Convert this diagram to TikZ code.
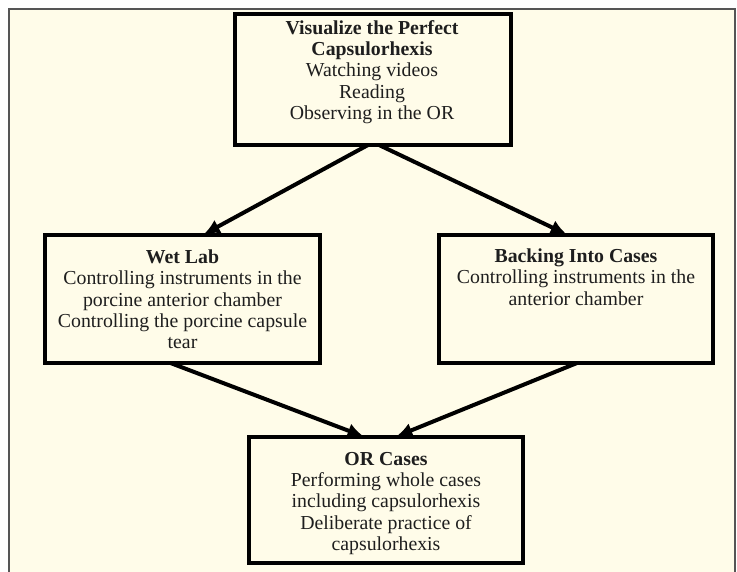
\documentclass[tikz,border=0pt]{standalone}
\usepackage{fontspec}
\setmainfont{Liberation Serif}
\usetikzlibrary{arrows.meta,calc}
\definecolor{cream}{RGB}{255,252,233}
\definecolor{framegray}{RGB}{85,85,85}
\definecolor{ink}{RGB}{30,30,30}
\begin{document}
\begin{tikzpicture}[x=1pt,y=-1pt,
  box/.style={draw=black, line width=4.5pt, fill=cream, inner sep=0pt, outer sep=0pt},
  txt/.style={align=center, inner sep=0pt, text=ink, font=\fontsize{19.8}{21.3}\selectfont},
  arr/.style={line width=4pt, -{Latex[length=16pt,width=15pt]}, shorten >=1.5pt}]
\useasboundingbox (0,0) rectangle (737,572);
\fill[white] (0,0) rectangle (737,572);
\fill[cream] (9,9) rectangle (735,572);
\draw[framegray, line width=2pt] (9,573) -- (9,9) -- (735,9) -- (735,573);

\node[box, minimum width=276pt, minimum height=131pt] (top) at (373,79.5) {};
\node[box, minimum width=275pt, minimum height=128pt] (wl) at (182.5,299) {};
\node[box, minimum width=274pt, minimum height=128pt] (bic) at (576,299) {};
\node[box, minimum width=274pt, minimum height=126pt] (orc) at (386,500) {};

\node[txt] (toptxt) at (372,72) {\textbf{Visualize the Perfect}\\\textbf{Capsulorhexis}\\Watching videos\\Reading\\Observing in the OR};
\node[txt] (wltxt) at (182.5,299.5) {\textbf{Wet Lab}\\Controlling instruments in the\\porcine anterior chamber\\Controlling the porcine capsule\\tear};
\node[txt] (bictxt) at (576,277) {\textbf{Backing Into Cases}\\Controlling instruments in the\\anterior chamber};
\node[txt] (orctxt) at (386,503.5) {\textbf{OR Cases}\\Performing whole cases\\including capsulorhexis\\Deliberate practice of\\capsulorhexis};

\draw[arr] ([xshift=-5pt]top.south) -- ([xshift=20pt]wl.north);
\draw[arr] ([xshift=6pt]top.south) -- ([xshift=-8pt]bic.north);
\draw[arr] ([xshift=-12pt]wl.south) -- ([xshift=-21pt]orc.north);
\draw[arr] ([xshift=1pt]bic.south) -- ([xshift=9pt]orc.north);
\end{tikzpicture}
\end{document}
